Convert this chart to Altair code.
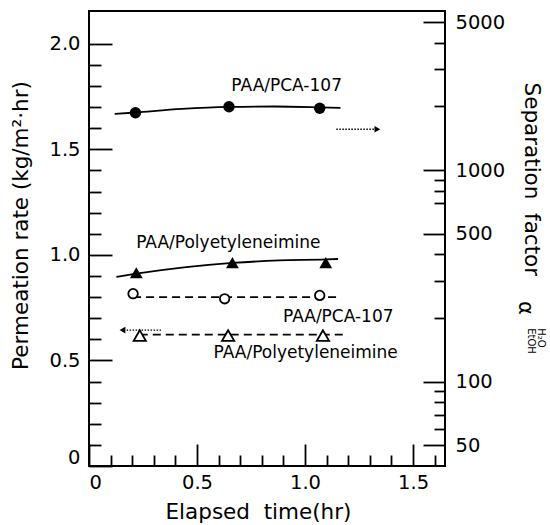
import altair as alt
import pandas as pd

FONT = "DejaVu Sans"

# ---------------- data ----------------
# Separation factor (right, log axis) - filled symbols
pca_sep_t = [0.215, 0.648, 1.068]
pca_sep = [1865, 1991, 1956]
pca_sep_fit_t = [0.119, 0.215, 0.43, 0.648, 0.86, 1.068, 1.164]
pca_sep_fit = [1839, 1869, 1942, 1985, 1995, 1978, 1967]

pei_sep_t = [0.219, 0.664, 1.096]
pei_sep = [327, 365, 365]
pei_sep_fit_t = [0.127, 0.219, 0.45, 0.664, 0.88, 1.096, 1.153]
pei_sep_fit = [313, 324, 348, 364, 374, 378, 380]

# Permeation rate (left axis) - open symbols
pca_perm_t = [0.204, 0.628, 1.068]
pca_perm = [0.816, 0.792, 0.808]
pca_perm_fit_t = [0.204, 1.161]
pca_perm_fit = [0.80, 0.80]

pei_perm_t = [0.235, 0.644, 1.083]
pei_perm = [0.618, 0.618, 0.618]
pei_perm_fit_t = [0.235, 1.176]
pei_perm_fit = [0.622, 0.622]

# dotted arrows showing which axis each group belongs to
arrow_right_t = [1.145, 1.33]
arrow_right_y = [1.595, 1.595]
arrow_right_head_t = [1.335]
arrow_left_t = [0.335, 0.16]
arrow_left_y = [0.644, 0.644]
arrow_left_head_t = [0.155]

# annotations
label_text = ["PAA/PCA-107", "PAA/Polyetyleneimine", "PAA/PCA-107", "PAA/Polyetyleneimine"]
label_t = [0.915, 0.645, 1.154, 1.003]
label_y = [1.798, 1.054, 0.708, 0.533]

# ticks
left_major = [0, 0.5, 1.0, 1.5, 2.0]
left_minor = [0.1, 0.2, 0.3, 0.4, 0.6, 0.7, 0.8, 0.9, 1.1, 1.2, 1.3, 1.4, 1.6, 1.7, 1.8, 1.9]
x_major = [0, 0.5, 1.0, 1.5]
x_minor = [0.1, 0.2, 0.3, 0.4, 0.6, 0.7, 0.8, 0.9, 1.1, 1.2, 1.3, 1.4, 1.6]
right_major = [50, 100, 500, 1000, 5000]
right_minor = [60, 70, 80, 90, 200, 300, 400, 700, 800, 900, 2000, 3000, 4000]

# ---------------- scales ----------------
xs = alt.Scale(domain=[0, 1.648], nice=False, zero=False)
yl = alt.Scale(domain=[0, 2.155], nice=False, zero=False)
yr = alt.Scale(type="log", domain=[40.0, 5636], nice=False)

common_axis = dict(domain=False, grid=False, tickColor="black", tickWidth=1.8,
                   labelFont=FONT, labelColor="black", titleFont=FONT,
                   titleColor="black", titleFontWeight="normal")

x_major_axis = alt.Axis(orient="bottom", values=x_major, offset=-22, tickSize=22,
                        labelFontSize=19.5, labelPadding=7,
                        labelExpr="datum.value == 0 ? '0' : format(datum.value, '.1f')",
                        title="Elapsed\u00a0 time(hr)", titleFontSize=21.5,
                        titleX=169, titleY=68, titleAlign="center", titleBaseline="middle",
                        **common_axis)
x_minor_axis = alt.Axis(orient="bottom", values=x_minor, offset=-11, tickSize=11,
                        labels=False, title=None, **common_axis)

left_major_axis = alt.Axis(orient="left", values=left_major, offset=-23, tickSize=23,
                           labelFontSize=19.5, labelPadding=9,
                           labelExpr="datum.value == 0 ? '0' : format(datum.value, '.1f')",
                           labelOffset={"condition": {"test": "datum.value == 0", "value": -9}, "value": 0},
                           title="Permeation rate (kg/m\u00b2\u00b7hr)", titleFontSize=21.5,
                           titleAngle=270, titleAlign="center", titleBaseline="middle",
                           titleX=-91, titleY=214, **common_axis)
left_minor_axis = alt.Axis(orient="left", values=left_minor, offset=-12, tickSize=12,
                           labels=False, title=None, **common_axis)

right_major_axis = alt.Axis(orient="right", values=right_major, offset=-22, tickSize=22,
                            labelFontSize=19.5, labelPadding=10, labelExpr="datum.value",
                            title="Separation\u00a0 factor", titleFontSize=21.5,
                            titleAngle=90, titleAlign="left", titleBaseline="middle",
                            titleX=107, titleY=71, **common_axis)
right_minor_axis = alt.Axis(orient="right", values=right_minor, offset=-11, tickSize=11,
                            labels=False, title=None, **common_axis)


def df(t, y):
    return pd.DataFrame({"t": t, "y": y})


def enc(chart, yscale, yaxis=None, xaxis=None):
    return chart.encode(
        x=alt.X("t:Q", scale=xs, axis=xaxis),
        y=alt.Y("y:Q", scale=yscale, axis=yaxis),
    )


solid = dict(color="black", strokeWidth=1.8)
dashed = dict(color="black", strokeWidth=1.8, strokeDash=[8, 5])

layers = [
    # separation factor curves (filled symbols, right axis)
    enc(alt.Chart(df(pei_sep_fit_t, pei_sep_fit)).mark_line(interpolate="monotone", **solid),
        yr, right_major_axis, x_major_axis),
    enc(alt.Chart(df(pei_sep_t, pei_sep)).mark_point(shape="triangle-up", filled=True,
                                                      color="black", size=165, opacity=1),
        yr, right_minor_axis, x_minor_axis),
    enc(alt.Chart(df(pca_sep_fit_t, pca_sep_fit)).mark_line(interpolate="monotone", **solid), yr),
    enc(alt.Chart(df(pca_sep_t, pca_sep)).mark_point(shape="circle", filled=True,
                                                      color="black", size=130, opacity=1), yr),
    # permeation rate (open symbols, left axis)
    enc(alt.Chart(df(pca_perm_fit_t, pca_perm_fit)).mark_line(**dashed), yl, left_major_axis),
    enc(alt.Chart(df(pca_perm_t, pca_perm)).mark_point(shape="circle", filled=True, fill="white",
                                                        stroke="black", strokeWidth=1.8,
                                                        size=90, opacity=1),
        yl, left_minor_axis),
    enc(alt.Chart(df(pei_perm_fit_t, pei_perm_fit)).mark_line(**dashed), yl),
    enc(alt.Chart(df(pei_perm_t, pei_perm)).mark_point(shape="triangle-up", filled=True, fill="white",
                                                        stroke="black", strokeWidth=1.8,
                                                        size=150, opacity=1), yl),
    # dotted arrows
    enc(alt.Chart(df(arrow_right_t, arrow_right_y)).mark_line(color="black", strokeWidth=1.3,
                                                              strokeDash=[1.5, 1.5]), yl),
    enc(alt.Chart(df(arrow_right_head_t, arrow_right_y[:1])).mark_point(
        shape="triangle-right", filled=True, color="black", size=45, opacity=1), yl),
    enc(alt.Chart(df(arrow_left_t, arrow_left_y)).mark_line(color="black", strokeWidth=1.3,
                                                            strokeDash=[1.5, 1.5]), yl),
    enc(alt.Chart(df(arrow_left_head_t, arrow_left_y[:1])).mark_point(
        shape="triangle-left", filled=True, color="black", size=45, opacity=1), yl),
    # annotations
    alt.Chart(pd.DataFrame({"t": label_t, "y": label_y, "s": label_text})).mark_text(
        font=FONT, fontSize=17, color="black").encode(
        x=alt.X("t:Q", scale=xs, axis=None),
        y=alt.Y("y:Q", scale=yl, axis=None),
        text="s:N"),
    # alpha symbol with sub/superscript of right title
    alt.Chart(pd.DataFrame({"k": [0]})).mark_text(
        text="\u03b1", font=FONT, fontSize=21, color="black", angle=90,
        align="center", baseline="middle").encode(x=alt.value(436), y=alt.value(297)),
    alt.Chart(pd.DataFrame({"k": [0]})).mark_text(
        text="H\u2082O", font=FONT, fontSize=10, color="black", angle=90,
        align="center", baseline="middle").encode(x=alt.value(452), y=alt.value(327)),
    alt.Chart(pd.DataFrame({"k": [0]})).mark_text(
        text="EtOH", font=FONT, fontSize=10, color="black", angle=90,
        align="center", baseline="middle").encode(x=alt.value(442), y=alt.value(330)),
]

chart = alt.layer(*layers).resolve_scale(
    x="independent", y="independent"
).resolve_axis(
    x="independent", y="independent"
).properties(
    width=356, height=455,
    autosize="none",
    padding={"left": 89, "top": 11, "right": 105, "bottom": 59},
    background="white",
).configure_view(stroke="black", strokeWidth=2)

chart.save("out.html", embed_options={"renderer": "svg", "actions": False})
